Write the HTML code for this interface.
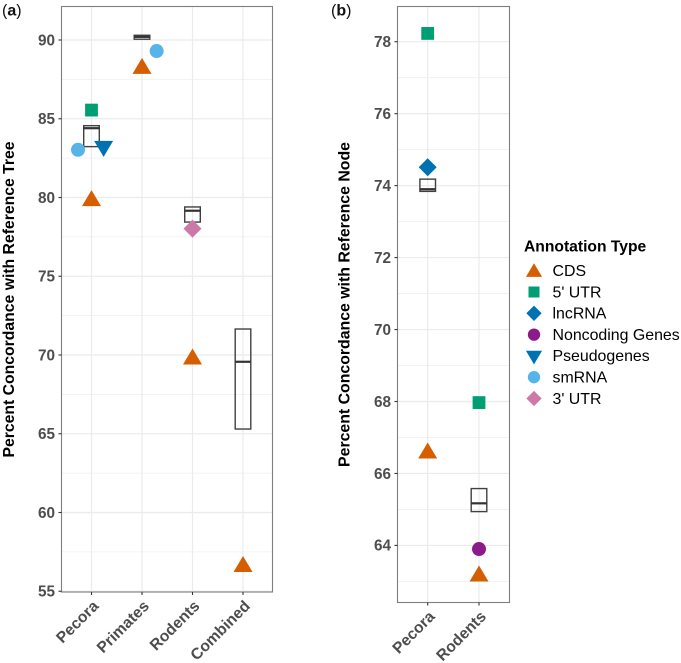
<!DOCTYPE html>
<html lang="en">
<head>
<meta charset="utf-8">
<title>Percent Concordance by Annotation Type</title>
<style>
html,body{margin:0;padding:0;background:#fff;}
svg{display:block;font-family:"Liberation Sans",sans-serif;}
</style>
</head>
<body>
<svg id="chart" width="681" height="663" viewBox="0 0 681 663" xmlns="http://www.w3.org/2000/svg">
  <rect width="681" height="663" fill="#fff"/>
  <text x="2" y="15.5" font-size="16" fill="#111">(<tspan font-weight="bold">a</tspan>)</text>
  <text x="331" y="15.5" font-size="16" fill="#111">(<tspan font-weight="bold">b</tspan>)</text>
  <text transform="translate(14,299.5) rotate(-90)" text-anchor="middle" font-size="15.75" font-weight="bold" fill="#000">Percent Concordance with Reference Tree</text>
  <text transform="translate(349.5,304.5) rotate(-90)" text-anchor="middle" font-size="15.85" font-weight="bold" fill="#000">Percent Concordance with Reference Node</text>
  <g id="panel-a"></g>
  <g id="panel-b"></g>
  <g id="legend">
    <text x="524" y="251.5" font-size="15.65" font-weight="bold" fill="#000">Annotation Type</text>
  </g>
</svg>
<script>
// Panel (a) data
const aCategories = ["Pecora", "Primates", "Rodents", "Combined"];
const aMajorTicks = [55, 60, 65, 70, 75, 80, 85, 90];
const aMinorTicks = [57.5, 62.5, 67.5, 72.5, 77.5, 82.5, 87.5];
const aBoxLower = [83.23, 90.05, 78.44, 65.3];
const aBoxMedian = [84.4, 90.2, 79.16, 69.57];
const aBoxUpper = [84.56, 90.3, 79.4, 71.65];
const aCds = [79.8, 88.2, 69.75, 56.57];
const aFiveUtr = [85.55, null, null, null];
const aPseudogenes = [83.25, null, null, null];
const aSmrna = [83.03, 89.3, null, null];
const aThreeUtr = [null, null, 78.02, null];
const aSmrnaDodge = [-0.267, 0.29, 0, 0];
const aPseudogeneDodge = [0.24, 0, 0, 0];

// Panel (b) data
const bCategories = ["Pecora", "Rodents"];
const bMajorTicks = [64, 66, 68, 70, 72, 74, 76, 78];
const bMinorTicks = [63, 65, 67, 69, 71, 73, 75, 77];
const bBoxLower = [73.84, 64.94];
const bBoxMedian = [73.9, 65.17];
const bBoxUpper = [74.18, 65.58];
const bCds = [66.57, 63.15];
const bFiveUtr = [78.23, 67.97];
const bLncrna = [74.51, null];
const bNoncoding = [null, 63.9];

// Legend data
const legendLabels = ["CDS", "5' UTR", "lncRNA", "Noncoding Genes", "Pseudogenes", "smRNA", "3' UTR"];
const legendShapes = ["up", "square", "diamond", "circle", "down", "circle", "diamond"];
const legendColors = ["#D55E00", "#009E73", "#0072B2", "#8B1A8B", "#0072B2", "#56B4E9", "#CC79A7"];

const NS = "http://www.w3.org/2000/svg";
const ORANGE = legendColors[0], GREEN = legendColors[1], BLUE = legendColors[2],
      PURPLE = legendColors[3], SKY = legendColors[5], PINK = legendColors[6];

function svgEl(parent, tag, attrs, name) {
  const el = document.createElementNS(NS, tag);
  for (const k in attrs) el.setAttribute(k, attrs[k]);
  
  
  parent.appendChild(el);
  return el;
}

function drawMarker(parent, shape, x, y, color, scale, name) {
  if (shape === "circle") {
    return svgEl(parent, "circle", {cx: x, cy: y, r: 7 * scale, fill: color}, name);
  }
  let pts;
  if (shape === "up") {
    pts = [[0, -10.5], [-9.5, 5.5], [9.5, 5.5]];
  } else if (shape === "down") {
    pts = [[0, 10.5], [-9.5, -5.5], [9.5, -5.5]];
  } else if (shape === "diamond") {
    pts = [[0, -9], [9, 0], [0, 9], [-9, 0]];
  } else {
    pts = [[-6.4, -6.4], [6.4, -6.4], [6.4, 6.4], [-6.4, 6.4]];
  }
  const s = pts.map(p => (x + p[0] * scale) + "," + (y + p[1] * scale)).join(" ");
  return svgEl(parent, "polygon", {points: s, fill: color}, name);
}

function drawPanel(cfg) {
  const g = document.getElementById(cfg.id);
  const yS = v => cfg.yBase + (cfg.yBaseValue - v) * cfg.yUnit;
  const xS = i => cfg.xFirst + i * cfg.xStep;

  cfg.minor.forEach(v => {
    svgEl(g, "line", {x1: cfg.left, x2: cfg.right, y1: yS(v), y2: yS(v), stroke: "#EFEFEF", "stroke-width": 0.8}, "minor-gridline-" + v);
  });
  cfg.major.forEach(v => {
    svgEl(g, "line", {x1: cfg.left, x2: cfg.right, y1: yS(v), y2: yS(v), stroke: "#EBEBEB", "stroke-width": 1.2}, "major-gridline-" + v);
  });
  cfg.categories.forEach((c, i) => {
    svgEl(g, "line", {x1: xS(i), x2: xS(i), y1: cfg.top, y2: cfg.bottom, stroke: "#EBEBEB", "stroke-width": 1.2}, "vertical-gridline-" + c.toLowerCase());
  });

  cfg.categories.forEach((c, i) => {
    const bx = xS(i) - 7.8;
    const name = c.toLowerCase();
    svgEl(g, "rect", {x: bx, y: yS(cfg.boxUpper[i]), width: 15.6, height: yS(cfg.boxLower[i]) - yS(cfg.boxUpper[i]), fill: "none", stroke: "#404040", "stroke-width": 1.4}, "box-" + name);
    svgEl(g, "line", {x1: bx, x2: bx + 15.6, y1: yS(cfg.boxMedian[i]), y2: yS(cfg.boxMedian[i]), stroke: "#333", "stroke-width": 2.2}, "box-median-" + name);
  });

  cfg.series.forEach(s => {
    s.values.forEach((v, i) => {
      if (v === null) return;
      const dodge = s.dodge ? s.dodge[i] : 0;
      drawMarker(g, s.shape, xS(i + dodge), yS(v), s.color, 1, s.name + "-point-" + cfg.categories[i].toLowerCase());
    });
  });

  svgEl(g, "rect", {x: cfg.left, y: cfg.top, width: cfg.right - cfg.left, height: cfg.bottom - cfg.top, fill: "none", stroke: "#7F7F7F", "stroke-width": 1.1}, "panel-border");

  cfg.major.forEach(v => {
    svgEl(g, "line", {x1: cfg.left - 3, x2: cfg.left, y1: yS(v), y2: yS(v), stroke: "#333", "stroke-width": 1.1}, "y-tick-" + v);
    const t = svgEl(g, "text", {x: cfg.left - 6.5, y: yS(v) + 5.3, "text-anchor": "end", "font-size": 15.3, "font-weight": "bold", fill: "#4D4D4D"}, "y-tick-label-" + v);
    t.textContent = v;
  });
  cfg.categories.forEach((c, i) => {
    const name = c.toLowerCase();
    svgEl(g, "line", {x1: xS(i), x2: xS(i), y1: cfg.bottom, y2: cfg.bottom + 3, stroke: "#333", "stroke-width": 1.1}, "x-tick-" + name);
    const t = svgEl(g, "text", {transform: "translate(" + (xS(i) + 8) + "," + (cfg.bottom + 15) + ") rotate(-45)", "text-anchor": "end", "font-size": 15.7, "font-weight": "bold", fill: "#4D4D4D"}, "x-tick-label-" + name);
    t.textContent = c;
  });
}

drawPanel({
  id: "panel-a", left: 61.5, right: 272.5, top: 6.5, bottom: 592,
  yBase: 40, yBaseValue: 90, yUnit: 15.75, xFirst: 91.5, xStep: 50.5,
  major: aMajorTicks, minor: aMinorTicks, categories: aCategories,
  boxLower: aBoxLower, boxMedian: aBoxMedian, boxUpper: aBoxUpper,
  series: [
    {name: "cds", shape: "up", color: ORANGE, values: aCds},
    {name: "five-utr", shape: "square", color: GREEN, values: aFiveUtr},
    {name: "pseudogenes", shape: "down", color: BLUE, values: aPseudogenes, dodge: aPseudogeneDodge},
    {name: "smrna", shape: "circle", color: SKY, values: aSmrna, dodge: aSmrnaDodge},
    {name: "three-utr", shape: "diamond", color: PINK, values: aThreeUtr}
  ]
});

drawPanel({
  id: "panel-b", left: 397.5, right: 509.5, top: 6.5, bottom: 602.5,
  yBase: 41.7, yBaseValue: 78, yUnit: 35.98, xFirst: 427.7, xStep: 51.3,
  major: bMajorTicks, minor: bMinorTicks, categories: bCategories,
  boxLower: bBoxLower, boxMedian: bBoxMedian, boxUpper: bBoxUpper,
  series: [
    {name: "cds", shape: "up", color: ORANGE, values: bCds},
    {name: "five-utr", shape: "square", color: GREEN, values: bFiveUtr},
    {name: "lncrna", shape: "diamond", color: BLUE, values: bLncrna},
    {name: "noncoding-genes", shape: "circle", color: PURPLE, values: bNoncoding}
  ]
});

const legendG = document.getElementById("legend");
legendLabels.forEach((label, i) => {
  const y = 270.7 + i * 21.3;
  const slug = label.toLowerCase().replace(/[^a-z0-9]+/g, "-");
  const up = legendShapes[i] === "up" ? 1.5 : legendShapes[i] === "down" ? -0.5 : 0;
  const scale = legendShapes[i] === "square" ? 0.86 : legendShapes[i] === "circle" ? 0.88 : 0.85;
  drawMarker(legendG, legendShapes[i], 534, y + up, legendColors[i], scale, "legend-key-" + slug);
  const t = svgEl(legendG, "text", {x: 552.5, y: y + 5.3, "font-size": 15.9, fill: "#000"}, "legend-label-" + slug);
  t.textContent = label;
});
</script>
</body>
</html>
